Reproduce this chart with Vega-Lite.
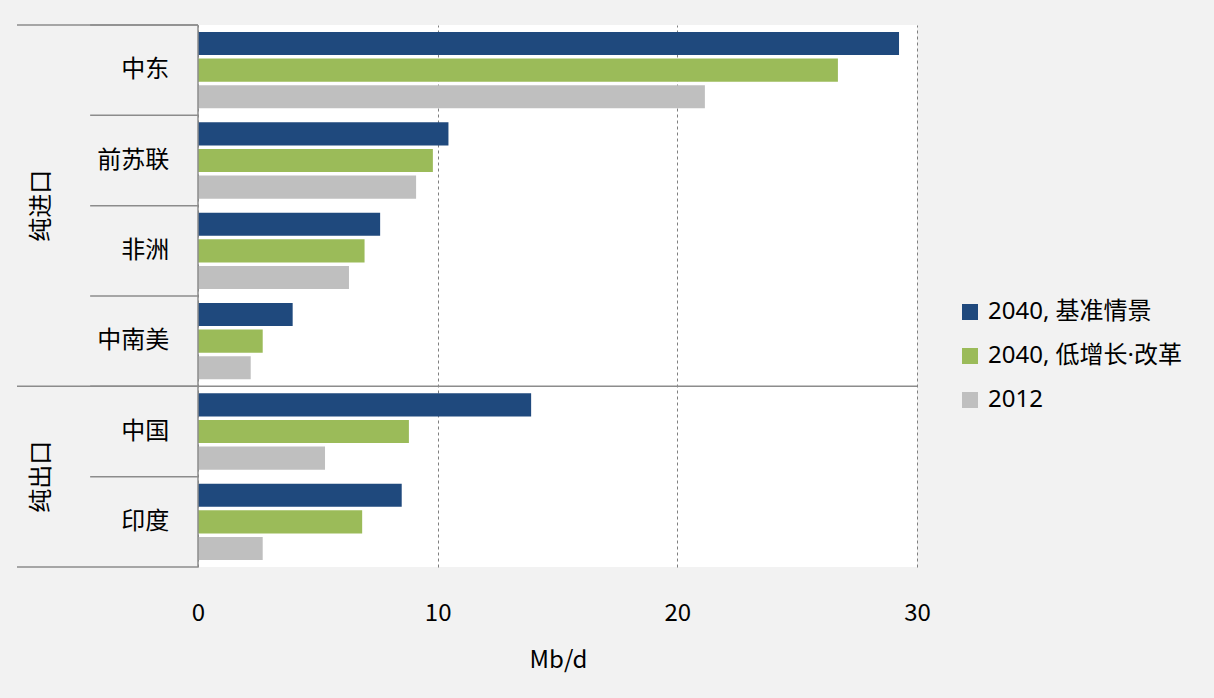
{
  "$schema": "https://vega.github.io/schema/vega-lite/v6.json",
  "width": 900,
  "height": 542,
  "autosize": {"type": "none"},
  "padding": {"left": 17, "top": 25, "right": 297, "bottom": 131},
  "background": "#f2f2f2",
  "config": {
    "view": {"fill": "white", "stroke": null},
    "font": "Noto Sans CJK SC",
    "text": {"font": "Noto Sans CJK SC"}
  },
  "datasets": {
    "bars": [
      {"region": "中东", "group": "纯进口", "series": "2040, 基准情景", "value": 29.25},
      {"region": "中东", "group": "纯进口", "series": "2040, 低增长·改革", "value": 26.7},
      {"region": "中东", "group": "纯进口", "series": "2012", "value": 21.15},
      {"region": "前苏联", "group": "纯进口", "series": "2040, 基准情景", "value": 10.45},
      {"region": "前苏联", "group": "纯进口", "series": "2040, 低增长·改革", "value": 9.8},
      {"region": "前苏联", "group": "纯进口", "series": "2012", "value": 9.1},
      {"region": "非洲", "group": "纯进口", "series": "2040, 基准情景", "value": 7.6},
      {"region": "非洲", "group": "纯进口", "series": "2040, 低增长·改革", "value": 6.95},
      {"region": "非洲", "group": "纯进口", "series": "2012", "value": 6.3},
      {"region": "中南美", "group": "纯进口", "series": "2040, 基准情景", "value": 3.95},
      {"region": "中南美", "group": "纯进口", "series": "2040, 低增长·改革", "value": 2.7},
      {"region": "中南美", "group": "纯进口", "series": "2012", "value": 2.2},
      {"region": "中国", "group": "纯出口", "series": "2040, 基准情景", "value": 13.9},
      {"region": "中国", "group": "纯出口", "series": "2040, 低增长·改革", "value": 8.8},
      {"region": "中国", "group": "纯出口", "series": "2012", "value": 5.3},
      {"region": "印度", "group": "纯出口", "series": "2040, 基准情景", "value": 8.5},
      {"region": "印度", "group": "纯出口", "series": "2040, 低增长·改革", "value": 6.85},
      {"region": "印度", "group": "纯出口", "series": "2012", "value": 2.7}
    ],
    "regions": [
      {"region": "中东"}, {"region": "前苏联"}, {"region": "非洲"},
      {"region": "中南美"}, {"region": "中国"}, {"region": "印度"}
    ],
    "groups": [
      {"group": "纯进口", "first": "中东", "middle": "非洲", "last": "中南美"},
      {"group": "纯出口", "first": "中国", "middle": "印度", "last": "印度"}
    ]
  },
  "layer": [
    {
      "data": {"values": [{}]},
      "mark": {"type": "rect", "fill": "#f2f2f2"},
      "encoding": {
        "x": {"datum": -7.552, "type": "quantitative"},
        "x2": {"datum": 0}
      }
    },
    {
      "data": {"name": "bars"},
      "mark": {"type": "bar"},
      "encoding": {
        "y": {
          "field": "region", "type": "nominal",
          "scale": {"domain": ["中东", "前苏联", "非洲", "中南美", "中国", "印度"], "paddingInner": 0, "paddingOuter": 0},
          "axis": null
        },
        "yOffset": {
          "field": "series", "type": "nominal",
          "scale": {"domain": ["2040, 基准情景", "2040, 低增长·改革", "2012"], "paddingInner": 0.132, "paddingOuter": 0.264}
        },
        "x": {
          "field": "value", "type": "quantitative",
          "scale": {"domain": [-7.552, 30], "nice": false, "zero": false},
          "axis": {
            "values": [0, 10, 20, 30],
            "grid": true, "gridDash": [3, 3], "gridColor": "#7f7f7f", "gridWidth": 1,
            "domain": false, "ticks": false, "labelFlush": false, "labelOverlap": false,
            "labelPadding": 34, "labelFontSize": 24, "labelColor": "#000000", "labelFont": "Noto Sans CJK SC",
            "title": "Mb/d", "titleFontSize": 24, "titleFontWeight": "normal", "titleColor": "#000000",
            "titleFont": "Noto Sans CJK SC", "titlePadding": 23, "titleX": 541
          }
        },
        "color": {
          "field": "series", "type": "nominal",
          "scale": {"domain": ["2040, 基准情景", "2040, 低增长·改革", "2012"], "range": ["#1f497d", "#9bbb59", "#bfbfbf"]},
          "legend": {
            "orient": "none", "legendX": 941, "legendY": 275, "title": null,
            "labelFontSize": 24, "labelColor": "#000000", "labelFont": "Noto Sans, Noto Sans CJK SC", "labelLimit": 400,
            "symbolType": "square", "symbolSize": 256, "symbolStrokeWidth": 0,
            "rowPadding": 20, "labelOffset": 6
          }
        }
      }
    },
    {
      "data": {"name": "regions"},
      "mark": {"type": "rule", "color": "#8c8c8c", "strokeWidth": 1.5},
      "encoding": {
        "y": {"field": "region", "type": "nominal", "bandPosition": 0},
        "x": {"datum": -4.5, "type": "quantitative"},
        "x2": {"datum": 0}
      }
    },
    {
      "data": {"name": "groups"},
      "mark": {"type": "rule", "color": "#8c8c8c", "strokeWidth": 1.5},
      "encoding": {
        "y": {"field": "first", "type": "nominal", "bandPosition": 0},
        "x": {"datum": -7.552, "type": "quantitative"},
        "x2": {"datum": 0}
      }
    },
    {
      "data": {"name": "groups"},
      "transform": [{"filter": "datum.group === '纯出口'"}],
      "mark": {"type": "rule", "color": "#8c8c8c", "strokeWidth": 1.5},
      "encoding": {
        "y": {"field": "first", "type": "nominal", "bandPosition": 0},
        "x": {"datum": 0, "type": "quantitative"},
        "x2": {"datum": 30}
      }
    },
    {
      "data": {"name": "groups"},
      "transform": [{"filter": "datum.group === '纯出口'"}],
      "mark": {"type": "rule", "color": "#8c8c8c", "strokeWidth": 1.5},
      "encoding": {
        "y": {"field": "last", "type": "nominal", "bandPosition": 1},
        "x": {"datum": -7.552, "type": "quantitative"},
        "x2": {"datum": 0}
      }
    },
    {
      "data": {"values": [{}]},
      "mark": {"type": "rule", "color": "#8c8c8c", "strokeWidth": 1.5},
      "encoding": {
        "x": {"datum": 0, "type": "quantitative"}
      }
    },
    {
      "data": {"name": "regions"},
      "mark": {"type": "text", "align": "right", "baseline": "middle", "fontSize": 24, "color": "#000000"},
      "encoding": {
        "y": {"field": "region", "type": "nominal"},
        "x": {"datum": -1.2, "type": "quantitative"},
        "text": {"field": "region"}
      }
    },
    {
      "data": {"name": "groups"},
      "mark": {"type": "text", "align": "center", "baseline": "middle", "fontSize": 24, "angle": 270, "color": "#000000"},
      "encoding": {
        "y": {"field": "middle", "type": "nominal", "bandPosition": 0},
        "x": {"datum": -6.5, "type": "quantitative"},
        "text": {"field": "group"}
      }
    }
  ]
}
